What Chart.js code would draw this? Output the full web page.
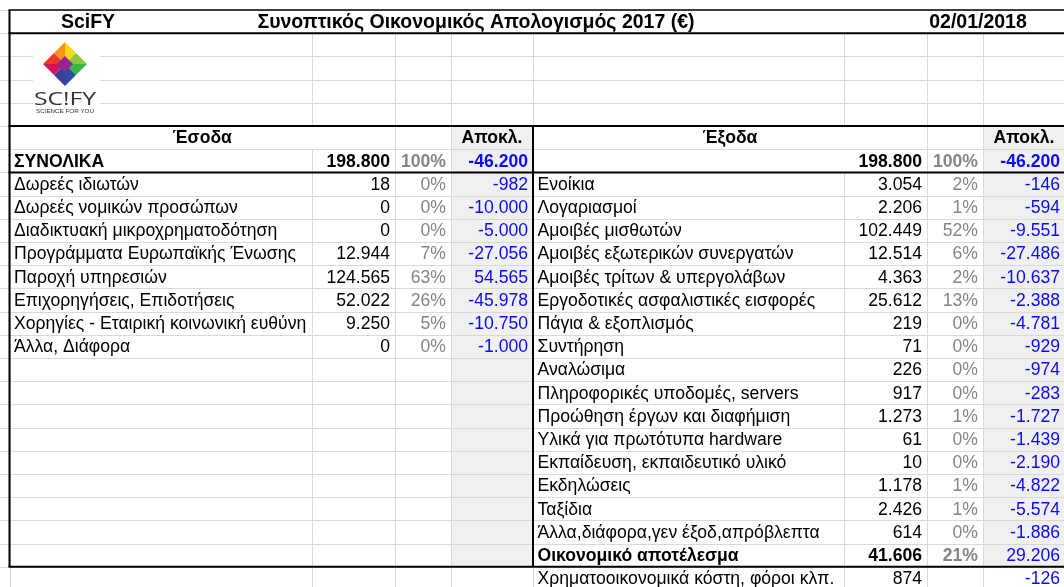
<!DOCTYPE html>
<html>
<head>
<meta charset="utf-8">
<script src="https://cdn.jsdelivr.net/npm/chart.js@4.4.1/dist/chart.umd.min.js"></script>
<style>
  html, body { margin: 0; padding: 0; background: #ffffff; }
  #wrap { width: 1064px; height: 587px; }
</style>
</head>
<body>
<div id="wrap"><canvas id="c" width="1064" height="587"></canvas></div>
<script>
// ---------------- DATA ----------------
const titleTexts = ['SciFY', 'Συνοπτικός Οικονομικός Απολογισμός 2017 (€)', '02/01/2018'];
const headerIncome = 'Έσοδα';
const headerExpense = 'Έξοδα';
const headerDiff = 'Αποκλ.';
const totalLabel = 'ΣΥΝΟΛΙΚΑ';

const totalIncome = 198800, totalIncomePct = 100, totalIncomeDiff = -46200;
const totalExpense = 198800, totalExpensePct = 100, totalExpenseDiff = -46200;

const incomeLabels = [
  'Δωρεές ιδιωτών',
  'Δωρεές νομικών προσώπων',
  'Διαδικτυακή μικροχρηματοδότηση',
  'Προγράμματα Ευρωπαϊκής Ένωσης',
  'Παροχή υπηρεσιών',
  'Επιχορηγήσεις, Επιδοτήσεις',
  'Χορηγίες - Εταιρική κοινωνική ευθύνη',
  'Άλλα, Διάφορα'
];
const incomeValues = [18, 0, 0, 12944, 124565, 52022, 9250, 0];
const incomePct    = [0, 0, 0, 7, 63, 26, 5, 0];
const incomeDiff   = [-982, -10000, -5000, -27056, 54565, -45978, -10750, -1000];

const expenseLabels = [
  'Ενοίκια',
  'Λογαριασμοί',
  'Αμοιβές μισθωτών',
  'Αμοιβές εξωτερικών συνεργατών',
  'Αμοιβές τρίτων & υπεργολάβων',
  'Εργοδοτικές ασφαλιστικές εισφορές',
  'Πάγια & εξοπλισμός',
  'Συντήρηση',
  'Αναλώσιμα',
  'Πληροφορικές υποδομές, servers',
  'Προώθηση έργων και διαφήμιση',
  'Υλικά για πρωτότυπα hardware',
  'Εκπαίδευση, εκπαιδευτικό υλικό',
  'Εκδηλώσεις',
  'Ταξίδια',
  'Άλλα,διάφορα,γεν έξοδ,απρόβλεπτα'
];
const expenseValues = [3054, 2206, 102449, 12514, 4363, 25612, 219, 71, 226, 917, 1273, 61, 10, 1178, 2426, 614];
const expensePct    = [2, 1, 52, 6, 2, 13, 0, 0, 0, 0, 1, 0, 0, 1, 1, 0];
const expenseDiff   = [-146, -594, -9551, -27486, -10637, -2388, -4781, -929, -974, -283, -1727, -1439, -2190, -4822, -5574, -1886];

const resultLabel = 'Οικονομικό αποτέλεσμα', resultValue = 41606, resultPct = 21, resultDiff = 29206;
const financeLabel = 'Χρηματοοικονομικά κόστη, φόροι κλπ.', financeValue = 874, financeDiff = -126;

// ---------------- LAYOUT / STYLE ----------------
const FONT = '"Liberation Sans", Arial, Helvetica, sans-serif';
const FS = 17.6;                 // body font size
const FS_TITLE = 19.5;           // title row font size
const ROW_H = 23.2;              // px per spreadsheet row
const TOP_PAD = 10;
const colEdges = [9.5, 311.5, 395, 451, 533, 844, 927, 983, 1065]; // x-scale units
const PAD_L = 4.5, PAD_R = 5;
const titleCenters = [88, 476, 978];
const C_BLUE = '#0a0aff', C_GRAY = '#858585', C_TEXT = '#000000';
const C_GRID = '#d9d9d9', C_SHADE = '#f0f0f0', C_BORDER = '#000000';
const ROW_TITLE = 0, ROW_HEAD = 5, ROW_TOTAL = 6, ROW_FIRST = 7, ROW_RESULT = 23, ROW_FIN = 24;

const fmt = n => (n < 0 ? '-' : '') + Math.abs(n).toString().replace(/\B(?=(\d{3})+(?!\d))/g, '.');
const pct = n => n + '%';

// ---------------- CELLS (built from data) ----------------
const cells = [];
function cell(col, row, text, opt = {}) {
  const align = opt.align || (col % 4 === 0 ? 'left' : 'right');
  let x;
  if (opt.center !== undefined) x = opt.center;
  else if (opt.span) x = (colEdges[col] + colEdges[col + opt.span]) / 2;
  else x = align === 'left' ? colEdges[col] + PAD_L : colEdges[col + 1] - PAD_R;
  const color = opt.color || (col % 4 === 2 ? C_GRAY : col % 4 === 3 ? C_BLUE : C_TEXT);
  cells.push({ x, y: row + 0.5, text, align: (opt.span || opt.center !== undefined) ? 'center' : align,
               bold: !!opt.bold, color, size: opt.size || FS });
}
// title row
titleTexts.forEach((t, i) => cell(0, ROW_TITLE, t, { center: titleCenters[i], bold: true, color: C_TEXT, size: FS_TITLE }));
// headers
cell(0, ROW_HEAD, headerIncome, { span: 2, bold: true });
cell(3, ROW_HEAD, headerDiff, { span: 1, bold: true, color: C_TEXT });
cell(4, ROW_HEAD, headerExpense, { span: 2, bold: true });
cell(7, ROW_HEAD, headerDiff, { span: 1, bold: true, color: C_TEXT });
// totals
cell(0, ROW_TOTAL, totalLabel, { bold: true });
cell(1, ROW_TOTAL, fmt(totalIncome), { bold: true });
cell(2, ROW_TOTAL, pct(totalIncomePct), { bold: true });
cell(3, ROW_TOTAL, fmt(totalIncomeDiff), { bold: true });
cell(5, ROW_TOTAL, fmt(totalExpense), { bold: true });
cell(6, ROW_TOTAL, pct(totalExpensePct), { bold: true });
cell(7, ROW_TOTAL, fmt(totalExpenseDiff), { bold: true });
// income rows
incomeLabels.forEach((l, i) => {
  const r = ROW_FIRST + i;
  cell(0, r, l); cell(1, r, fmt(incomeValues[i])); cell(2, r, pct(incomePct[i])); cell(3, r, fmt(incomeDiff[i]));
});
// expense rows
expenseLabels.forEach((l, i) => {
  const r = ROW_FIRST + i;
  cell(4, r, l); cell(5, r, fmt(expenseValues[i])); cell(6, r, pct(expensePct[i])); cell(7, r, fmt(expenseDiff[i]));
});
// result + finance
cell(4, ROW_RESULT, resultLabel, { bold: true });
cell(5, ROW_RESULT, fmt(resultValue), { bold: true });
cell(6, ROW_RESULT, pct(resultPct), { bold: true });
cell(7, ROW_RESULT, fmt(resultDiff));
cell(4, ROW_FIN, financeLabel);
cell(5, ROW_FIN, fmt(financeValue));
cell(7, ROW_FIN, fmt(financeDiff));

// ---------------- PLUGIN ----------------
function drawLogo(ctx, X, Y) {
  const bx0 = X(33), bx1 = X(100), by0 = Y(1.15), by1 = Y(4.8);
  ctx.fillStyle = '#ffffff';
  ctx.fillRect(bx0, by0, bx1 - bx0, by1 - by0);
  const cx = X(65), cy = Y(2.33), d = 22;
  const T = [cx, cy - d], R = [cx + d, cy], B = [cx, cy + d], L = [cx - d, cy], C = [cx, cy];
  const mid = (p, q) => [(p[0] + q[0]) / 2, (p[1] + q[1]) / 2];
  const tri = (a, b, c, col) => { ctx.beginPath(); ctx.moveTo(...a); ctx.lineTo(...b); ctx.lineTo(...c); ctx.closePath(); ctx.fillStyle = col; ctx.fill(); };
  const TL = mid(T, L), TR = mid(T, R), BR = mid(B, R), BL = mid(B, L);
  tri(T, TL, C, '#f7941d');
  tri(TL, L, C, '#ee3a2a');
  tri(T, TR, C, '#fcd617');
  tri(TR, R, C, '#8cc63f');
  tri(R, BR, C, '#39b54a');
  tri(BR, B, C, '#2b4aa0');
  tri(B, BL, C, '#3a3f99');
  tri(BL, L, C, '#d4145a');
  const s = 8;
  ctx.beginPath(); ctx.moveTo(cx, cy - s); ctx.lineTo(cx + s, cy); ctx.lineTo(cx, cy + s); ctx.lineTo(cx - s, cy); ctx.closePath();
  ctx.fillStyle = '#92278f'; ctx.fill();
  ctx.fillStyle = '#333333';
  ctx.textAlign = 'center'; ctx.textBaseline = 'alphabetic';
  ctx.font = '19px "Open Sans", ' + FONT;
  let w = ctx.measureText('SC!FY').width;
  ctx.save(); ctx.translate(cx, cy + 41); ctx.scale(62 / w, 1); ctx.fillText('SC!FY', 0, 0); ctx.restore();
  ctx.font = '5px ' + FONT;
  w = ctx.measureText('SCIENCE FOR YOU').width;
  ctx.save(); ctx.translate(cx, cy + 49); ctx.scale(58 / w, 1); ctx.fillText('SCIENCE FOR YOU', 0, 0); ctx.restore();
}

const sheetPlugin = {
  id: 'sheet',
  beforeDatasetsDraw(chart) {
    const { ctx, scales: { x, y } } = chart;
    const X = v => x.getPixelForValue(v);
    const Y = r => y.getPixelForValue(r);
    ctx.save();
    ctx.fillStyle = C_SHADE;
    [3, 7].forEach(c => ctx.fillRect(X(colEdges[c]), Y(ROW_HEAD), X(colEdges[c + 1]) - X(colEdges[c]), Y(ROW_FIN) - Y(ROW_HEAD)));
    ctx.strokeStyle = C_GRID; ctx.lineWidth = 1;
    ctx.beginPath();
    for (let r = 0; r <= 26; r++) {
      const py = Math.round(Y(r)) + 0.5;
      ctx.moveTo(X(0), py); ctx.lineTo(X(1064), py);
    }
    ctx.stroke();
    ctx.beginPath();
    colEdges.forEach((e, i) => {
      const px = Math.round(X(e)) + 0.5;
      for (let r = 1; r <= 26; r++) {
        if (r === ROW_HEAD && (i === 1 || i === 5)) continue;
        if (r === ROW_TOTAL && i === 5) continue;
        ctx.moveTo(px, Y(r)); ctx.lineTo(px, Y(r + 1));
      }
    });
    ctx.stroke();
    drawLogo(ctx, X, Y);
    ctx.strokeStyle = C_BORDER;
    const hline = (r, lw) => { ctx.lineWidth = lw; ctx.beginPath(); ctx.moveTo(X(colEdges[0]) - 1, Y(r)); ctx.lineTo(X(1064), Y(r)); ctx.stroke(); };
    hline(ROW_TITLE, 1.5);
    hline(1, 2);
    hline(ROW_HEAD, 2);
    hline(ROW_FIRST, 2);
    hline(ROW_FIN, 2);
    ctx.lineWidth = 2;
    ctx.beginPath(); ctx.moveTo(X(colEdges[0]), Y(ROW_TITLE)); ctx.lineTo(X(colEdges[0]), Y(ROW_FIN)); ctx.stroke();
    ctx.beginPath(); ctx.moveTo(X(colEdges[4]), Y(ROW_HEAD)); ctx.lineTo(X(colEdges[4]), Y(ROW_FIN)); ctx.stroke();
    ctx.restore();
  },
  afterDatasetsDraw(chart) {
    const { ctx } = chart;
    const meta = chart.getDatasetMeta(0);
    ctx.save();
    ctx.textBaseline = 'middle';
    meta.data.forEach((el, i) => {
      const c = cells[i];
      ctx.font = (c.bold ? 'bold ' : '') + c.size + 'px ' + FONT;
      ctx.fillStyle = c.color;
      ctx.textAlign = c.align;
      ctx.fillText(c.text, el.x, el.y + 1);
    });
    ctx.restore();
  }
};

new Chart(document.getElementById('c'), {
  type: 'scatter',
  data: {
    datasets: [{
      data: cells.map(c => ({ x: c.x, y: c.y })),
      pointRadius: 0,
      pointHoverRadius: 0,
      showLine: false
    }]
  },
  options: {
    responsive: false,
    maintainAspectRatio: false,
    animation: false,
    events: [],
    layout: { padding: { top: TOP_PAD, left: 0, right: 0, bottom: 0 } },
    plugins: { legend: { display: false }, tooltip: { enabled: false }, title: { display: false } },
    scales: {
      x: { type: 'linear', display: false, min: 0, max: 1064 },
      y: { type: 'linear', display: false, reverse: true, min: 0, max: (587 - TOP_PAD) / ROW_H }
    }
  },
  plugins: [sheetPlugin]
});
</script>
</body>
</html>
